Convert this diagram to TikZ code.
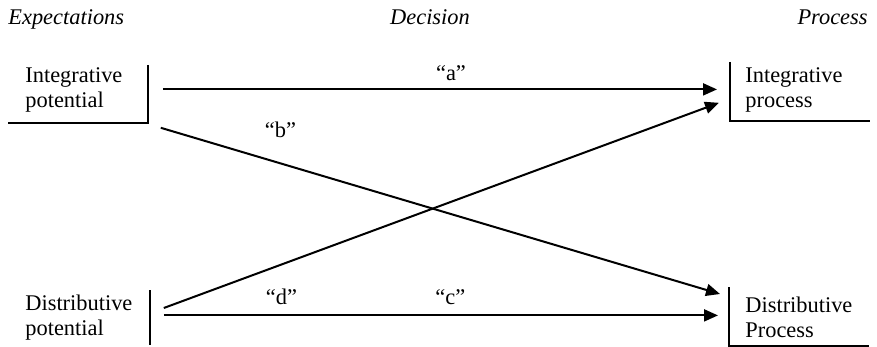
\documentclass[tikz,border=0pt]{standalone}
\usepackage{fontspec}
\setmainfont{Liberation Serif}
\usetikzlibrary{arrows.meta,calc}

\begin{document}
\begin{tikzpicture}[
  x=0.5pt, y=-0.5pt,
  font=\fontsize{11.2}{12.5}\selectfont,
  head/.style={font=\fontsize{11.2}{12.5}\selectfont\itshape, inner sep=0pt},
  stage/.style={anchor=north west, align=left, inner ysep=0pt},
  bracket/.style={line width=1pt},
  arr/.style={-{Triangle[length=7pt,width=6pt]}, line width=1pt},
  lbl/.style={inner sep=0pt},
]
\useasboundingbox (0,0) rectangle (877,347);

% column headings
\node[head, anchor=base west] (hexp) at (8,25) {Expectations};
\node[head, anchor=base] (hdec) at (430,25) {Decision};
\node[head, anchor=base east] (hproc) at (868,25) {Process};

% expectations and processes
\node[stage, inner xsep=8.5pt, text width=52.5pt, text height=8.5pt, text depth=20pt]
  (ip) at (8,65) {Integrative\\potential};
\node[stage, inner xsep=7.5pt, text width=54.5pt, text height=10pt, text depth=19pt]
  (ipr) at (730,62) {Integrative\\process};
\node[stage, inner xsep=8.5pt, text width=53.5pt, text height=10pt, text depth=17pt]
  (dp) at (8,290) {Distributive\\potential};
\node[stage, inner xsep=8pt, text width=53.5pt, text height=12.5pt, text depth=16.5pt]
  (dpr) at (729,287) {Distributive\\Process};

\draw[bracket] (ip.north east) -- (ip.south east) -- (ip.south west);
\draw[bracket] (ipr.north west) -- (ipr.south west) -- (ipr.south east);
\draw[bracket] (dp.north east) -- (dp.south east);
\draw[bracket] (dpr.north west) -- (dpr.south west) -- (dpr.south east);

% decisions
\draw[arr] ([xshift=7.5pt,yshift=2.25pt]ip.east) coordinate (a0)
  -- ($(a0 -| ipr.west)+(-13,0)$) node[lbl,pos=0.52,yshift=8pt] (la) {``a''};
\draw[arr] ([xshift=6.5pt,yshift=-2.5pt]ip.south east)
  -- ([xshift=-4.5pt,yshift=-3.5pt]dpr.north west) node[lbl,pos=0.214,yshift=17pt] (lb) {``b''};
\draw[arr] ([xshift=7pt,yshift=1pt]dp.east) coordinate (c0)
  -- ($(c0 -| dpr.west)+(-11,0)$) node[lbl,pos=0.517,yshift=9pt] (lc) {``c''};
\draw[arr] ([xshift=7pt,yshift=-9pt]dp.north east)
  -- ([xshift=-5.5pt,yshift=9pt]ipr.south west) node[lbl,pos=0.212,yshift=-16pt] (ld) {``d''};
\end{tikzpicture}
\end{document}
